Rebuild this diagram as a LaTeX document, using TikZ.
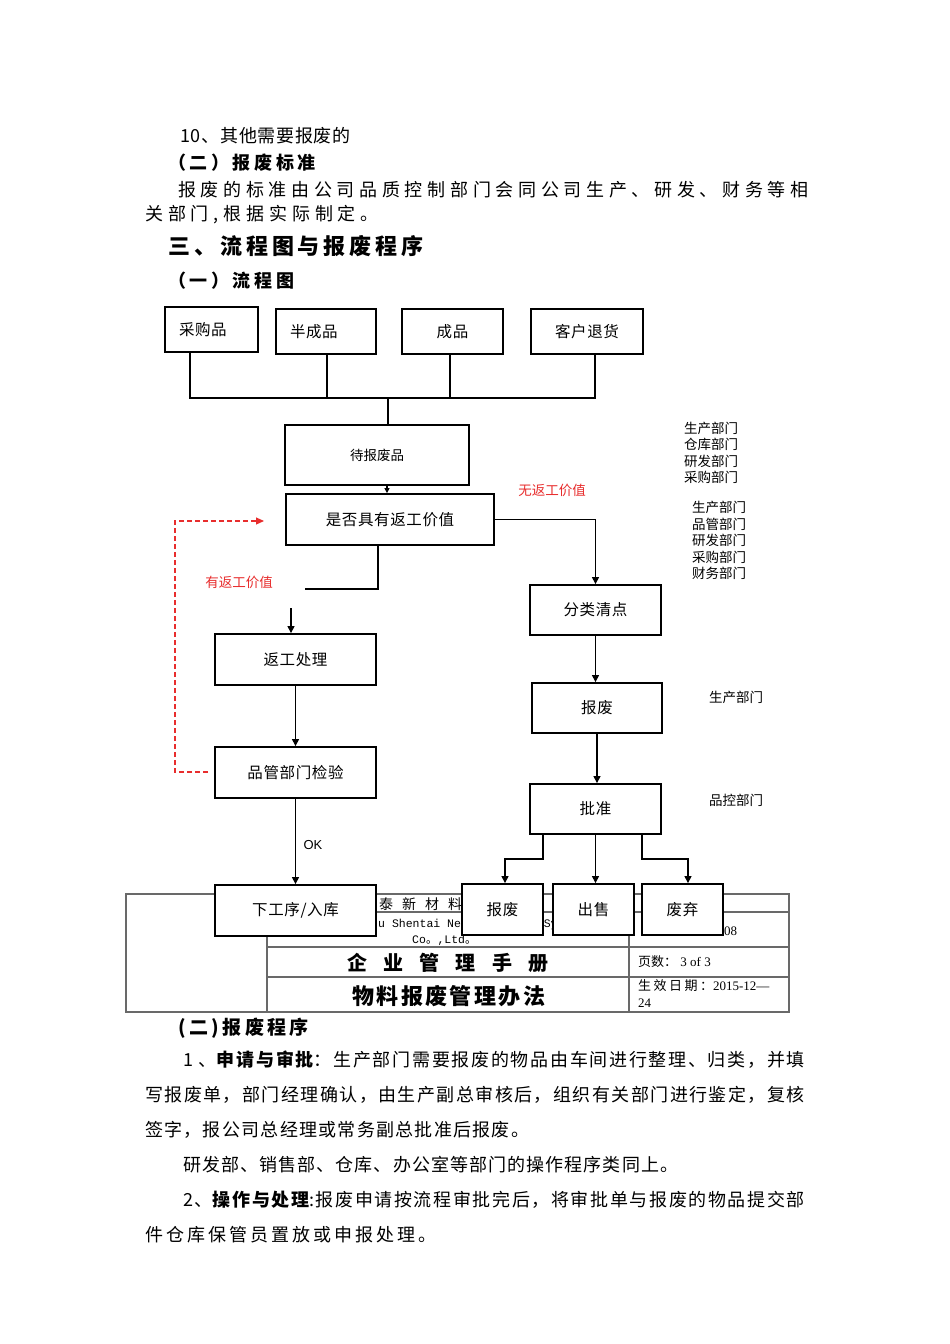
\documentclass[tikz,border=0pt]{standalone}
\usepackage{fontspec}
\setmainfont{Noto Sans CJK SC}
\newfontfamily\monofnt{Liberation Mono}
\newfontfamily\seriffnt{Liberation Serif}
\newfontfamily\latinfnt{Liberation Sans}
\usetikzlibrary{arrows.meta}
\definecolor{redclr}{RGB}{232,45,45}
\definecolor{rulclr}{RGB}{105,105,105}
\newcommand\bodyfont[1]{\fontsize{18}{22}\selectfont\addfontfeatures{LetterSpace=#1}}
\newcommand\boxfont{\fontsize{15.5}{18}\selectfont\addfontfeatures{LetterSpace=4}}
\newcommand\smallfont{\fontsize{13.5}{16.5}\selectfont}
\newcommand\tblfont{\fontsize{13}{15}\selectfont}
\tikzset{
  box/.style={rectangle,draw,line width=1.8pt,fill=white,inner sep=0pt,
              font=\boxfont},
  lbl/.style={inner sep=0pt,font=\smallfont},
  redlbl/.style={lbl,text=redclr},
  dept/.style={lbl,align=left,anchor=west},
  txt/.style={anchor=west,inner sep=0pt},
  line/.style={line width=1.1pt},
  edge/.style={line,-{Triangle[length=7pt,width=7pt]}},
  back/.style={line,draw=redclr,dash pattern=on 5pt off 3pt,
               -{Triangle[length=8pt,width=7pt,fill=redclr]}},
  tbl/.style={line width=1.2pt,draw=rulclr},
}
\begin{document}
\begin{tikzpicture}[x=1pt,y=-1pt]
\fill[white] (0,0) rectangle (950,1344);
\useasboundingbox (0,0) rectangle (950,1344);
% text above the chart
\node[txt,font={\bodyfont{4}}] (t1) at (180,136) {10、其他需要报废的};
\node[txt,font={\bodyfont{20}\bfseries}] (t2) at (168,163) {（二）报废标准};
\node[txt,font={\bodyfont{26}}] (t3) at (178,190) {报废的标准由公司品质控制部门会同公司生产、研发、财务等相};
\node[txt,font={\bodyfont{27}}] (t4) at (145,215) {关部门,根据实际制定。};
\node[txt,font={\fontsize{22}{26}\selectfont\bfseries\addfontfeatures{LetterSpace=18}}] (t5) at (168,246) {三、流程图与报废程序};
\node[txt,font={\bodyfont{20}\bfseries}] (t6) at (168,281) {（一）流程图};
% page header table
\draw[tbl] (126,894) rectangle (789,1012);
\draw[tbl] (267,894) -- (267,1012);
\draw[tbl] (629,894) -- (629,1012);
\draw[tbl] (267,912) -- (789,912);
\draw[tbl] (267,947) -- (789,947);
\draw[tbl] (267,977) -- (789,977);
\node[txt,font={\fontsize{14}{16}\selectfont\addfontfeatures{LetterSpace=64}}] (hd1) at (379,904) {泰新材料};
\node[txt,font={\fontsize{11.5}{13}\monofnt}] (hd2) at (378,925) {u Shentai New Materials Sy};
\node[txt,font={\fontsize{11.5}{13}\selectfont}] (hd3) at (412,940) {{\monofnt Co}。{\monofnt ,Ltd}。};
\node[txt,font={\fontsize{13}{15}\seriffnt}] (hd4) at (717.5,931) {008};
\node[txt,font={\fontsize{20}{24}\selectfont\bfseries\addfontfeatures{LetterSpace=81}}] (hd5) at (347,963) {企业管理手册};
\node[txt,font={\fontsize{22}{26}\selectfont\bfseries\addfontfeatures{LetterSpace=11}}] (hd6) at (352,996) {物料报废管理办法};
\node[txt,font=\tblfont] (hd7) at (638,962) {页数：{\seriffnt\ 3 of 3}};
\node[txt,font=\tblfont] (hd8) at (638,986) {{\addfontfeatures{LetterSpace=19}生效日期：}{\seriffnt 2015-12—}};
\node[txt,font={\fontsize{13}{15}\seriffnt}] (hd9) at (638,1003) {24};
% flow chart
\node[box,minimum width=93,minimum height=45,text width=65,align=left,inner xsep=14pt] (cgp) at (211.5,329.5) {采购品};
\node[box,minimum width=100,minimum height=45,text width=72,align=left,inner xsep=14pt] (bcp) at (326,331.5) {半成品};
\node[box,minimum width=101,minimum height=45] (cp) at (452.5,331.5) {成品};
\node[box,minimum width=112,minimum height=45] (khth) at (587,331.5) {客户退货};
\node[box,minimum width=184,minimum height=60,font=\smallfont] (dbf) at (377,455) {待报废品};
\node[box,minimum width=208,minimum height=51] (sf) at (390,519.5) {是否具有返工价值};
\node[box,minimum width=161,minimum height=51] (fg) at (295.5,659.5) {返工处理};
\node[box,minimum width=161,minimum height=51] (pg) at (295.5,772.5) {品管部门检验};
\node[box,minimum width=161,minimum height=51] (xgx) at (295.5,910.5) {下工序/入库};
\node[box,minimum width=131,minimum height=50] (fl) at (595.5,610) {分类清点};
\node[box,minimum width=130,minimum height=50] (bf) at (597,708) {报废};
\node[box,minimum width=131,minimum height=50] (pz) at (595.5,809) {批准};
\node[box,minimum width=81,minimum height=51] (bf2) at (502.5,909.5) {报废};
\node[box,minimum width=81,minimum height=51] (cs) at (593.5,909.5) {出售};
\node[box,minimum width=81,minimum height=51] (fq) at (682.5,909.5) {废弃};
\node[redlbl] (nv) at (552,490) {无返工价值};
\node[redlbl] (yv) at (239,582) {有返工价值};
\node[lbl,font={\fontsize{13}{15}\latinfnt}] (ok) at (313,845) {OK};
\node[dept] (d1) at (684,453) {生产部门\\仓库部门\\研发部门\\采购部门};
\node[dept] (d2) at (692,540.5) {生产部门\\品管部门\\研发部门\\采购部门\\财务部门};
\node[dept] (d3) at (709,697) {生产部门};
\node[dept] (d4) at (709,800) {品控部门};
\coordinate (bus) at (388,398);
\coordinate (rw1) at (305,589);
\coordinate (rw2) at (291,608);
\coordinate (rd1) at (208,772);
\coordinate (rd2) at (264,521);
\coordinate (sp1) at (543,859);
\coordinate (sp2) at (642,859);
\draw[line] (190,0 |- cgp.south) |- (bus);
\draw[line] (327,0 |- bcp.south) |- (bus);
\draw[line] (450,0 |- cp.south) |- (bus);
\draw[line] (595,0 |- khth.south) |- (bus);
\draw[line] (bus) -- (bus |- dbf.north);
\draw[line,-{Triangle[length=5pt,width=5pt]}] (387,0 |- dbf.south) -- (387,0 |- sf.north);
\draw[edge] (sf.east) -| (fl.north);
\draw[line] (378,0 |- sf.south) |- (rw1);
\draw[edge] (rw2) -- (rw2 |- fg.north);
\draw[edge] (fg) -- (pg);
\draw[edge] (pg.south) -- (pg.south |- xgx.north);
\draw[back] (rd1) -| (175,0 |- rd2) -- (rd2);
\draw[edge] (fl.south) -- (fl.south |- bf.north);
\draw[edge] (bf.south) -- (bf.south |- pz.north);
\draw[edge] (sp1 |- pz.south) -- (sp1) -| (505,0 |- bf2.north);
\draw[edge] (pz.south) -- (pz.south |- cs.north);
\draw[edge] (sp2 |- pz.south) -- (sp2) -| (688,0 |- fq.north);
% text below the chart
\node[txt,font={\fontsize{19}{22}\selectfont\bfseries\addfontfeatures{LetterSpace=18}}] (b1) at (178,1028) {(二)报废程序};
\node[txt,font={\bodyfont{9.5}}] (b2) at (183,1060) {1 、{\bfseries 申请与审批}：生产部门需要报废的物品由车间进行整理、归类，并填};
\node[txt,font={\bodyfont{8}}] (b3) at (145,1095) {写报废单，部门经理确认，由生产副总审核后，组织有关部门进行鉴定，复核};
\node[txt,font={\bodyfont{7}}] (b4) at (145,1130) {签字，报公司总经理或常务副总批准后报废。};
\node[txt,font={\bodyfont{6}}] (b5) at (183,1165) {研发部、销售部、仓库、办公室等部门的操作程序类同上。};
\node[txt,font={\bodyfont{9}}] (b6) at (183,1200) {2、{\bfseries 操作与处理}:报废申请按流程审批完后，将审批单与报废的物品提交部};
\node[txt,font={\bodyfont{17}}] (b7) at (145,1235) {件仓库保管员置放或申报处理。};
\end{tikzpicture}
\end{document}
